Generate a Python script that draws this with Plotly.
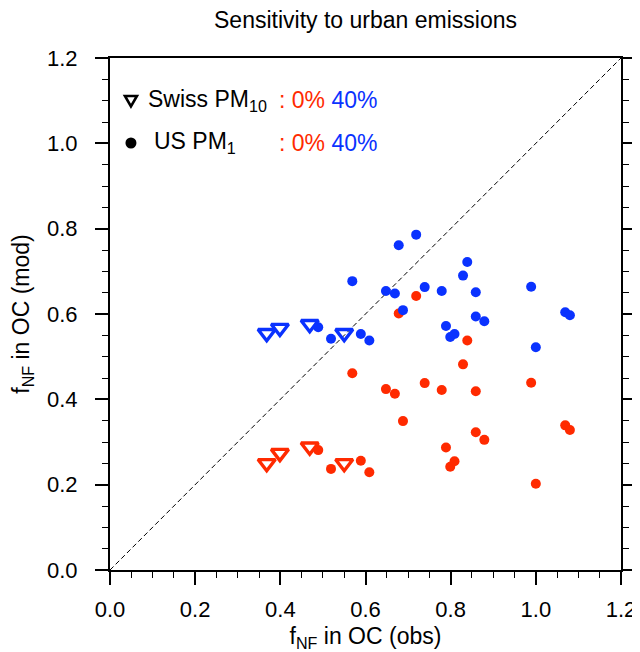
import plotly.graph_objects as go

# ---- data ----
swiss_obs = [0.368, 0.399, 0.469, 0.550]
swiss_mod_0 = [0.250, 0.274, 0.289, 0.250]
swiss_mod_40 = [0.555, 0.567, 0.576, 0.555]

us_obs = [0.489, 0.519, 0.569, 0.589, 0.609, 0.648, 0.669, 0.678, 0.688, 0.719,
          0.739, 0.779, 0.789, 0.799, 0.809, 0.829, 0.839, 0.859, 0.859, 0.879,
          0.989, 1.000, 1.069, 1.080]
us_mod_0 = [0.281, 0.237, 0.461, 0.256, 0.229, 0.424, 0.413, 0.601, 0.349, 0.642,
            0.438, 0.422, 0.287, 0.242, 0.255, 0.482, 0.538, 0.419, 0.323, 0.305,
            0.439, 0.202, 0.339, 0.328]
us_mod_40 = [0.569, 0.542, 0.677, 0.553, 0.538, 0.654, 0.648, 0.761, 0.609, 0.786,
             0.663, 0.654, 0.572, 0.546, 0.553, 0.690, 0.722, 0.651, 0.594, 0.583,
             0.664, 0.522, 0.604, 0.597]

one_to_one = [0.0, 1.2]
tick_vals = [0.0, 0.2, 0.4, 0.6, 0.8, 1.0, 1.2]
tick_text = ["0.0", "0.2", "0.4", "0.6", "0.8", "1.0", "1.2"]

RED = "#ff2a00"
BLUE = "#0a32ff"
FONT = "Liberation Sans, Arial, sans-serif"
FS = 23
TFS = 22

fig = go.Figure()

fig.add_trace(go.Scatter(x=one_to_one, y=one_to_one, mode="lines",
                         line=dict(color="black", width=1, dash="5px,3px"),
                         hoverinfo="skip", showlegend=False))

fig.add_trace(go.Scatter(x=swiss_obs, y=swiss_mod_0, mode="markers",
                         marker=dict(symbol="triangle-down-open", size=15,
                                     color=RED, line=dict(color=RED, width=3.4)),
                         showlegend=False))
fig.add_trace(go.Scatter(x=swiss_obs, y=swiss_mod_40, mode="markers",
                         marker=dict(symbol="triangle-down-open", size=15,
                                     color=BLUE, line=dict(color=BLUE, width=3.4)),
                         showlegend=False))
fig.add_trace(go.Scatter(x=us_obs, y=us_mod_0, mode="markers",
                         marker=dict(symbol="circle", size=10, color=RED,
                                     line=dict(width=0)),
                         showlegend=False))
fig.add_trace(go.Scatter(x=us_obs, y=us_mod_40, mode="markers",
                         marker=dict(symbol="circle", size=10, color=BLUE,
                                     line=dict(width=0)),
                         showlegend=False))

axis_common = dict(
    range=[0, 1.2], tickmode="array", tickvals=tick_vals, ticktext=tick_text,
    ticks="outside", ticklen=13, tickwidth=1.5, tickcolor="black",
    showline=True, linecolor="black", linewidth=2,
    showgrid=False, zeroline=False, automargin=False,
    tickfont=dict(family=FONT, size=TFS, color="black"),
    minor=dict(dtick=0.05, ticks="outside", ticklen=6, tickwidth=1.2,
               tickcolor="black", showgrid=False),
)

# page body has an 8px margin, so the figure is sized to the visible area
fig.update_layout(
    width=632, height=644,
    margin=dict(l=102, r=19, t=50, b=82),
    paper_bgcolor="white", plot_bgcolor="white",
    font=dict(family=FONT, color="black"),
    xaxis=dict(**axis_common, mirror=True, ticklabelstandoff=6,
               title=dict(text="f<sub>NF</sub> in OC (obs)",
                          font=dict(family=FONT, size=FS), standoff=7)),
    yaxis=dict(**axis_common, mirror="allticks", ticklabelstandoff=13,
               title=dict(text="f<sub>NF</sub> in OC (mod)",
                          font=dict(family=FONT, size=FS), standoff=11)),
)

# title as annotation for exact placement
fig.add_annotation(xref="paper", yref="paper", x=0.5, y=1.074,
                   xanchor="center", yanchor="middle", showarrow=False,
                   text="Sensitivity to urban emissions",
                   font=dict(family=FONT, size=FS, color="black"))

# ---- legend (drawn manually) ----
rows = [
    (0.917, "Swiss PM<sub>10</sub>", 0.070, "tri"),
    (0.834, "US PM<sub>1</sub>", 0.083, "dot"),
]
for yy, label, lx, sym in rows:
    if sym == "tri":
        fig.add_shape(type="path", xref="paper", yref="paper",
                      xsizemode="pixel", ysizemode="pixel",
                      xanchor=0.041, yanchor=yy,
                      path="M-6,4.5 L6,4.5 L0,-6 Z",
                      line=dict(color="black", width=2.6))
    else:
        fig.add_shape(type="circle", xref="paper", yref="paper",
                      xsizemode="pixel", ysizemode="pixel",
                      xanchor=0.041, yanchor=yy,
                      x0=-5.5, x1=5.5, y0=-5.5, y1=5.5,
                      fillcolor="black", line=dict(color="black", width=0))
    fig.add_annotation(xref="paper", yref="paper", x=lx, y=yy,
                       xanchor="left", yanchor="middle", showarrow=False,
                       text=label, font=dict(family=FONT, size=FS, color="black"))
    fig.add_annotation(xref="paper", yref="paper", x=0.326, y=yy,
                       xanchor="left", yanchor="middle", showarrow=False,
                       text=f"<span style='color:{RED}'>: 0%</span> "
                            f"<span style='color:{BLUE}'>40%</span>",
                       font=dict(family=FONT, size=FS))

fig.write_html("out.html")
